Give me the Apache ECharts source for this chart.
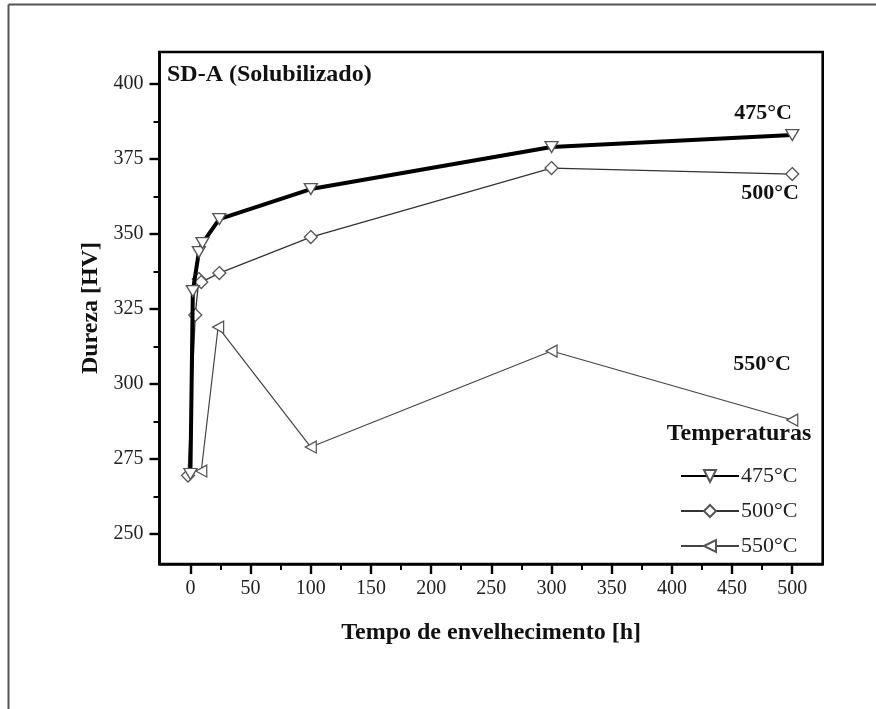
<!DOCTYPE html>
<html><head><meta charset="utf-8">
<script src="https://cdn.jsdelivr.net/npm/echarts@6/dist/echarts.min.js"></script>
<style>html,body{margin:0;padding:0;background:#fff}#c{width:876px;height:709px}</style>
</head><body><div id="c"></div>
<script>
// ---- data ----
const t475 = [0, 2, 7, 10, 24, 100, 300, 500];
const h475 = [270, 331, 344, 347, 355, 365, 379, 383];
const t500 = [-2, 4, 7, 9, 24, 100, 300, 500];
const h500 = [269.5, 323, 335, 334, 337, 349, 372, 370];
const t550 = [9, 23, 100, 300, 500];
const h550 = [271, 319, 279, 311, 288];
const seriesNames = ['475°C', '500°C', '550°C'];
const xMajorTicks = [0, 50, 100, 150, 200, 250, 300, 350, 400, 450, 500];
const xMinorTicks = [25, 75, 125, 175, 225, 275, 325, 375, 425, 475];
const yMajorTicks = [250, 275, 300, 325, 350, 375, 400];
const yMinorTicks = [262.5, 287.5, 312.5, 337.5, 362.5, 387.5];
const chartTitle = 'SD-A (Solubilizado)';
const xTitle = 'Tempo de envelhecimento [h]';
const yTitle = 'Dureza [HV]';
const legendTitle = 'Temperaturas';

const FONT = 'Liberation Serif';
const pairs = (xs, ys) => xs.map((x, i) => [x, ys[i]]);

const chart = echarts.init(document.getElementById('c'), null, {renderer: 'canvas'});
const xRange = {min: -25.7, max: 525.3};
const yRange = {min: 240, max: 410.7};

const markerStyle = {color: '#fff', borderColor: '#555', borderWidth: 1.3};

chart.setOption({
  animation: false,
  backgroundColor: '#fff',
  grid: {left: 159.5, right: 53.3, top: 52, bottom: 145, show: true,
         borderColor: '#000', borderWidth: 2.6, backgroundColor: 'transparent'},
  xAxis: [{
    type: 'value', ...xRange, position: 'bottom',
    name: xTitle, nameLocation: 'middle', nameGap: 57,
    nameTextStyle: {fontFamily: FONT, fontWeight: 'bold', fontSize: 24, color: '#111'},
    axisLine: {show: true, onZero: false, lineStyle: {color: '#000', width: 2.6}},
    axisTick: {show: true, customValues: xMajorTicks, length: 10, lineStyle: {color: '#000', width: 2.4}},
    axisLabel: {show: true, customValues: xMajorTicks, margin: 15, fontFamily: FONT, fontSize: 20, color: '#222'},
    splitLine: {show: false}
  }, {
    type: 'value', ...xRange, position: 'bottom', offset: 0,
    axisLine: {show: false, onZero: false},
    axisTick: {show: true, customValues: xMinorTicks, length: 6, lineStyle: {color: '#000', width: 2}},
    axisLabel: {show: false},
    splitLine: {show: false}
  }],
  yAxis: [{
    type: 'value', ...yRange, position: 'left',
    name: yTitle, nameLocation: 'middle', nameGap: 52,
    nameTextStyle: {fontFamily: FONT, fontWeight: 'bold', fontSize: 24, color: '#111'},
    axisLine: {show: true, onZero: false, lineStyle: {color: '#000', width: 2.6}},
    axisTick: {show: true, customValues: yMajorTicks, length: 10, lineStyle: {color: '#000', width: 2.4}},
    axisLabel: {show: true, customValues: yMajorTicks, margin: 16, fontFamily: FONT, fontSize: 20, color: '#222'},
    splitLine: {show: false}
  }, {
    type: 'value', ...yRange, position: 'left', offset: 0,
    axisLine: {show: false, onZero: false},
    axisTick: {show: true, customValues: yMinorTicks, length: 6, lineStyle: {color: '#000', width: 2}},
    axisLabel: {show: false},
    splitLine: {show: false}
  }],
  legend: {
    orient: 'vertical', left: 675, top: 460,
    itemWidth: 58, itemHeight: 15, itemGap: 13,
    data: seriesNames,
    textStyle: {fontFamily: FONT, fontSize: 22, color: '#222', lineHeight: 22, padding: [0, 0, 0, -3]}
  },
  series: [{
    name: seriesNames[0], type: 'line', data: pairs(t475, h475), z: 5,
    symbol: 'triangle', symbolRotate: 180, symbolSize: [13, 11],
    lineStyle: {color: '#000', width: 4}, itemStyle: markerStyle
  }, {
    name: seriesNames[1], type: 'line', data: pairs(t500, h500), z: 4,
    symbol: 'diamond', symbolSize: [13, 13],
    lineStyle: {color: '#333', width: 1.3}, itemStyle: markerStyle
  }, {
    name: seriesNames[2], type: 'line', data: pairs(t550, h550), z: 3,
    symbol: 'triangle', symbolRotate: 90, symbolSize: [12, 11],
    lineStyle: {color: '#444', width: 1.2}, itemStyle: markerStyle
  }],
  graphic: [
    {type: 'line', shape: {x1: 8.5, y1: 4.5, x2: 8.5, y2: 709}, style: {stroke: '#555', lineWidth: 2}},
    {type: 'line', shape: {x1: 8.5, y1: 4.5, x2: 876, y2: 4.5}, style: {stroke: '#555', lineWidth: 2}},
    {type: 'text', x: 167, y: 75, style: {text: chartTitle, font: 'bold 24px "Liberation Serif"', fill: '#111', textVerticalAlign: 'middle'}},
    {type: 'text', x: 763, y: 113, style: {text: seriesNames[0], font: 'bold 22px "Liberation Serif"', fill: '#111', textAlign: 'center', textVerticalAlign: 'middle'}},
    {type: 'text', x: 770, y: 193, style: {text: seriesNames[1], font: 'bold 22px "Liberation Serif"', fill: '#111', textAlign: 'center', textVerticalAlign: 'middle'}},
    {type: 'text', x: 762, y: 364, style: {text: seriesNames[2], font: 'bold 22px "Liberation Serif"', fill: '#111', textAlign: 'center', textVerticalAlign: 'middle'}},
    {type: 'text', x: 739, y: 434, style: {text: legendTitle, font: 'bold 24px "Liberation Serif"', fill: '#111', textAlign: 'center', textVerticalAlign: 'middle'}}
  ]
});
</script></body></html>
